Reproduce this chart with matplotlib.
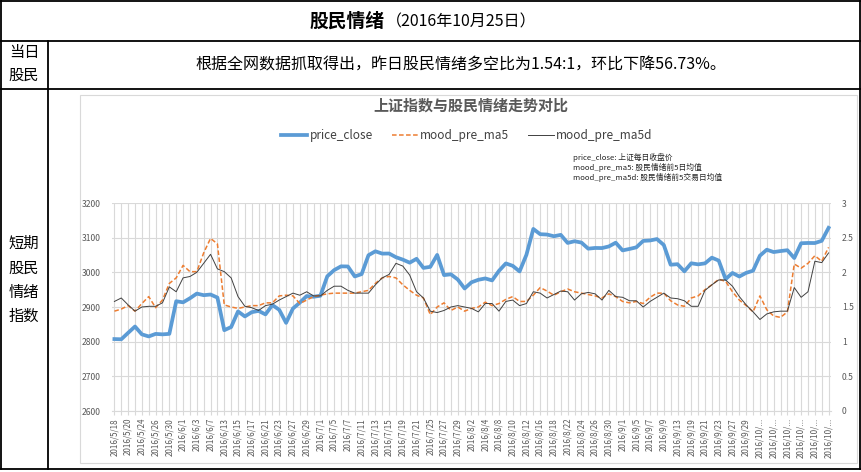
import matplotlib
matplotlib.use("Agg")
import matplotlib.pyplot as plt
from matplotlib.lines import Line2D
from matplotlib.patches import Rectangle

plt.rcParams['font.family'] = ['Noto Sans CJK SC', 'DejaVu Sans']

# trading days per month (2016)
trade_days = {
    5: [18, 19, 20, 23, 24, 25, 26, 27, 30, 31],
    6: [1, 2, 3, 6, 7, 8, 13, 14, 15, 16, 17, 20, 21, 22, 23, 24, 27, 28, 29, 30],
    7: [1, 4, 5, 6, 7, 8, 11, 12, 13, 14, 15, 18, 19, 20, 21, 22, 25, 26, 27, 28, 29],
    8: [1, 2, 3, 4, 5, 8, 9, 10, 11, 12, 15, 16, 17, 18, 19, 22, 23, 24, 25, 26, 29, 30, 31],
    9: [1, 2, 5, 6, 7, 8, 9, 12, 13, 14, 19, 20, 21, 22, 23, 26, 27, 28, 29, 30],
    10: [10, 11, 12, 13, 14, 17, 18, 19, 20, 21, 24],
}
dates = [f"2016/{m}/{d}" for m, days in trade_days.items() for d in days]

price_close = [
    2807.5, 2806.9, 2825.5, 2843.7, 2821.1, 2815.1, 2822.4, 2821.1, 2822.5, 2916.6,
    2913.5, 2925.2, 2938.7, 2934.1, 2936.0, 2927.2, 2833.1, 2842.2, 2887.2, 2872.8,
    2885.1, 2888.8, 2878.6, 2905.6, 2892.0, 2854.3, 2895.7, 2912.6, 2931.6, 2929.6,
    2932.5, 2988.6, 3006.4, 3017.3, 3016.9, 2988.1, 2994.9, 3049.4, 3060.7, 3054.0,
    3054.3, 3043.6, 3036.6, 3027.9, 3039.0, 3012.8, 3015.8, 3050.2, 2992.0, 2994.3,
    2979.3, 2953.4, 2971.3, 2978.5, 2982.4, 2976.7, 3004.3, 3025.7, 3018.8, 3002.6,
    3050.7, 3125.2, 3110.0, 3109.0, 3104.1, 3108.1, 3084.8, 3089.7, 3085.9, 3068.3,
    3070.3, 3070.0, 3074.7, 3085.5, 3063.3, 3067.4, 3072.1, 3090.7, 3091.9, 3096.0,
    3078.9, 3022.0, 3023.5, 3002.9, 3026.1, 3023.0, 3025.9, 3042.3, 3033.9, 2980.4,
    2998.2, 2987.9, 2998.5, 3004.7, 3048.1, 3065.3, 3058.5, 3061.4, 3063.8, 3041.2,
    3083.9, 3084.7, 3084.5, 3090.9, 3128.3,
]

mood_pre_ma5 = [
    1.44, 1.47, 1.52, 1.44, 1.55, 1.65, 1.49, 1.60, 1.84, 1.92,
    2.10, 2.01, 2.01, 2.28, 2.49, 2.41, 1.53, 1.50, 1.48, 1.50,
    1.52, 1.52, 1.56, 1.56, 1.66, 1.67, 1.66, 1.55, 1.60, 1.65,
    1.67, 1.69, 1.70, 1.70, 1.70, 1.70, 1.72, 1.74, 1.84, 1.92,
    1.94, 1.92, 1.82, 1.74, 1.67, 1.63, 1.39, 1.50, 1.56, 1.45,
    1.50, 1.44, 1.48, 1.50, 1.57, 1.52, 1.55, 1.61, 1.65, 1.58,
    1.58, 1.67, 1.78, 1.73, 1.67, 1.72, 1.76, 1.72, 1.70, 1.68,
    1.66, 1.63, 1.69, 1.65, 1.58, 1.56, 1.58, 1.55, 1.64, 1.70,
    1.70, 1.59, 1.53, 1.51, 1.63, 1.66, 1.75, 1.82, 1.90, 1.87,
    1.72, 1.60, 1.52, 1.43, 1.66, 1.46, 1.37, 1.35, 1.43, 2.12,
    2.06, 2.13, 2.24, 2.16, 2.36,
]

mood_pre_ma5d = [
    1.58, 1.63, 1.53, 1.44, 1.50, 1.51, 1.51, 1.56, 1.79, 1.72,
    1.92, 1.94, 2.00, 2.13, 2.26, 2.05, 2.01, 1.92, 1.65, 1.51,
    1.49, 1.45, 1.52, 1.54, 1.60, 1.65, 1.70, 1.67, 1.72, 1.66,
    1.66, 1.74, 1.80, 1.80, 1.74, 1.70, 1.70, 1.70, 1.82, 1.92,
    1.97, 2.13, 2.09, 1.96, 1.72, 1.63, 1.44, 1.42, 1.45, 1.50,
    1.52, 1.50, 1.48, 1.43, 1.55, 1.55, 1.44, 1.58, 1.60, 1.52,
    1.55, 1.72, 1.70, 1.63, 1.68, 1.73, 1.72, 1.60, 1.69, 1.71,
    1.69, 1.60, 1.74, 1.65, 1.64, 1.59, 1.59, 1.50, 1.58, 1.64,
    1.70, 1.63, 1.62, 1.59, 1.51, 1.51, 1.74, 1.82, 1.89, 1.89,
    1.80, 1.65, 1.53, 1.43, 1.32, 1.40, 1.43, 1.44, 1.44, 1.78,
    1.64, 1.72, 2.16, 2.14, 2.28,
]

notes = [
    "price_close: 上证每日收盘价",
    "mood_pre_ma5: 股民情绪前5日均值",
    "mood_pre_ma5d: 股民情绪前5交易日均值",
]

W, H = 862, 472
fig = plt.figure(figsize=(W / 100, H / 100), dpi=100)


def fx(px):
    return px / W


def fy(py):
    return 1 - py / H


# table frame
def hline(y, x0, x1, **kw):
    fig.add_artist(Line2D([fx(x0), fx(x1)], [fy(y), fy(y)], transform=fig.transFigure, **kw))


def vline(x, y0, y1, **kw):
    fig.add_artist(Line2D([fx(x), fx(x)], [fy(y0), fy(y1)], transform=fig.transFigure, **kw))


tbl = dict(color="black", lw=1.3)
hline(1, 1, 861, **tbl)
hline(469, 1, 861, **tbl)
hline(41, 1, 861, **tbl)
hline(89, 1, 861, **tbl)
vline(1, 1, 469, **tbl)
vline(860.5, 1, 469, **tbl)
vline(48, 41, 469, **tbl)

# title row
fig.text(fx(385), fy(21), "股民情绪", ha="right", va="center", fontsize=13.5, fontweight="bold")
fig.text(fx(386), fy(21.5), "（2016年10月25日）", ha="left", va="center", fontsize=11.5)

fig.text(fx(24), fy(64), "当日\n股民", ha="center", va="center", fontsize=11, linespacing=1.45)
fig.text(fx(461), fy(65), "根据全网数据抓取得出，昨日股民情绪多空比为1.54:1，环比下降56.73%。",
         ha="center", va="center", fontsize=11.5)
fig.text(fx(24), fy(280), "短期\n股民\n情绪\n指数", ha="center", va="center", fontsize=11, linespacing=1.55)

# chart box
fig.add_artist(Rectangle((fx(80), fy(463)), fx(857) - fx(80), fy(95) - fy(463),
                         transform=fig.transFigure, fill=False, edgecolor="#D9D9D9", lw=0.8))

fig.text(fx(471), fy(106), "上证指数与股民情绪走势对比", ha="center", va="center",
         fontsize=10.8, fontweight="bold", color="#595959")

# plot area
ax = fig.add_axes([fx(112), fy(411), fx(831) - fx(112), fy(203) - fy(411)])
ax2 = ax.twinx()

x = list(range(len(dates)))
l1, = ax.plot(x, price_close, color="#5B9BD5", lw=2.7, solid_joinstyle="round", label="price_close")
l2, = ax2.plot(x, mood_pre_ma5, color="#ED7D31", lw=1.1, ls=(0, (3, 1.6)), label="mood_pre_ma5")
l3, = ax2.plot(x, mood_pre_ma5d, color="#404040", lw=0.7, label="mood_pre_ma5d")

ax.set_xlim(-0.35, len(dates) - 0.65)
ax.set_ylim(2600, 3200)
ax.set_yticks(range(2600, 3201, 100))
ax2.set_ylim(0, 3)
ax2.set_yticks([0, 0.5, 1, 1.5, 2, 2.5, 3])
ax2.set_yticklabels(["0", "0.5", "1", "1.5", "2", "2.5", "3"])

labels = []
for i, d in enumerate(dates):
    if i % 2:
        labels.append("")
    elif d.startswith("2016/10/"):
        labels.append("2016/10/...")
    else:
        labels.append(d)
ax.set_xticks(x)
ax.set_xticklabels(labels, rotation=90, fontsize=5.8, color="#595959")

ax.grid(True, color="#D9D9D9", lw=0.8)
ax.set_axisbelow(True)
for a in (ax, ax2):
    for s in a.spines.values():
        s.set_visible(False)
ax.spines["bottom"].set_visible(True)
ax.spines["bottom"].set_color("#D9D9D9")
ax.tick_params(axis="x", length=3, color="#D9D9D9", pad=2)
ax.tick_params(axis="y", length=0, labelsize=6.2, labelcolor="#595959", pad=8)
ax2.tick_params(axis="y", length=0, labelsize=6.2, labelcolor="#595959", pad=8)

fig.legend(handles=[l1, l2, l3], loc="center", bbox_to_anchor=(fx(467), fy(136)), ncol=3,
           frameon=False, fontsize=8.5, handlelength=2.2, handletextpad=0.2, columnspacing=1.6,
           labelcolor="#404040")

for k, t in enumerate(notes):
    fig.text(fx(573), fy(157 + 10 * k), t, ha="left", va="center", fontsize=5.6, color="#262626")

fig.savefig("out.png", dpi=100)
